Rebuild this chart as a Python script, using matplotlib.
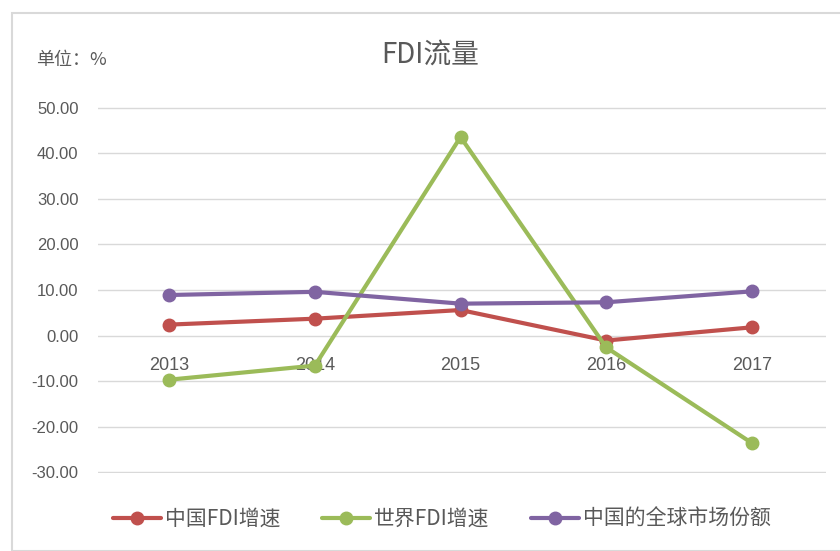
import matplotlib
matplotlib.use("Agg")
import matplotlib.pyplot as plt
from matplotlib.patches import Rectangle

plt.rcParams['font.family'] = ['Noto Sans CJK SC', 'DejaVu Sans']

years = ['2013', '2014', '2015', '2016', '2017']
china_fdi_growth = [2.4, 3.7, 5.6, -1.1, 1.8]
world_fdi_growth = [-9.7, -6.6, 43.6, -2.6, -23.6]
china_global_share = [8.9, 9.6, 7.0, 7.3, 9.7]
series_names = ['中国FDI增速', '世界FDI增速', '中国的全球市场份额']
colors = ['#C0504D', '#9BBB59', '#8064A2']
yticks = [-30, -20, -10, 0, 10, 20, 30, 40, 50]

fig = plt.figure(figsize=(8.4, 5.51), dpi=100)
fig.patches.append(Rectangle((12/840, 0), 1, 1 - 13/551, transform=fig.transFigure,
                             fill=False, edgecolor='#D9D9D9', linewidth=1.5))
ax = fig.add_axes([98/840, 1 - 473/551, (826-98)/840, (473-107)/551])

x = list(range(len(years)))
for vals, name, c in zip([china_fdi_growth, world_fdi_growth, china_global_share], series_names, colors):
    ax.plot(x, vals, color=c, linewidth=3, marker='o', markersize=9, label=name,
            solid_capstyle='round')

ax.set_xlim(-0.49, 4.51)
ax.set_ylim(-30.2, 50.2)
ax.set_yticks(yticks)
ax.set_yticklabels([f'{v:.2f}' for v in yticks], fontsize=12, color='#595959',
                   family=['Liberation Sans', 'DejaVu Sans'])
ax.yaxis.grid(True, color='#D9D9D9', linewidth=1)
ax.set_axisbelow(True)
ax.tick_params(axis='y', length=0, pad=14)
ax.tick_params(axis='x', length=0)
ax.set_xticks([])
for s in ax.spines.values():
    s.set_visible(False)

for xi, yr in zip(x, years):
    ax.text(xi, -6.6, yr, ha='center', va='center', fontsize=13, color='#595959',
            family=['Liberation Sans', 'DejaVu Sans'], zorder=1)

fig.text(430/840, 1 - 55/551, 'FDI流量', ha='center', va='center', fontsize=20,
         color='#595959')
fig.text(36/840, 1 - 60/551, '单位：%', ha='left', va='center', fontsize=13,
         color='#595959')

leg = fig.legend(loc='center', bbox_to_anchor=(442/840, 1 - 519/551), ncol=3,
                 frameon=False, fontsize=15, handlelength=2.3, columnspacing=2.0,
                 handletextpad=0.2, labelcolor='#595959')

fig.savefig('out.png', dpi=100)
